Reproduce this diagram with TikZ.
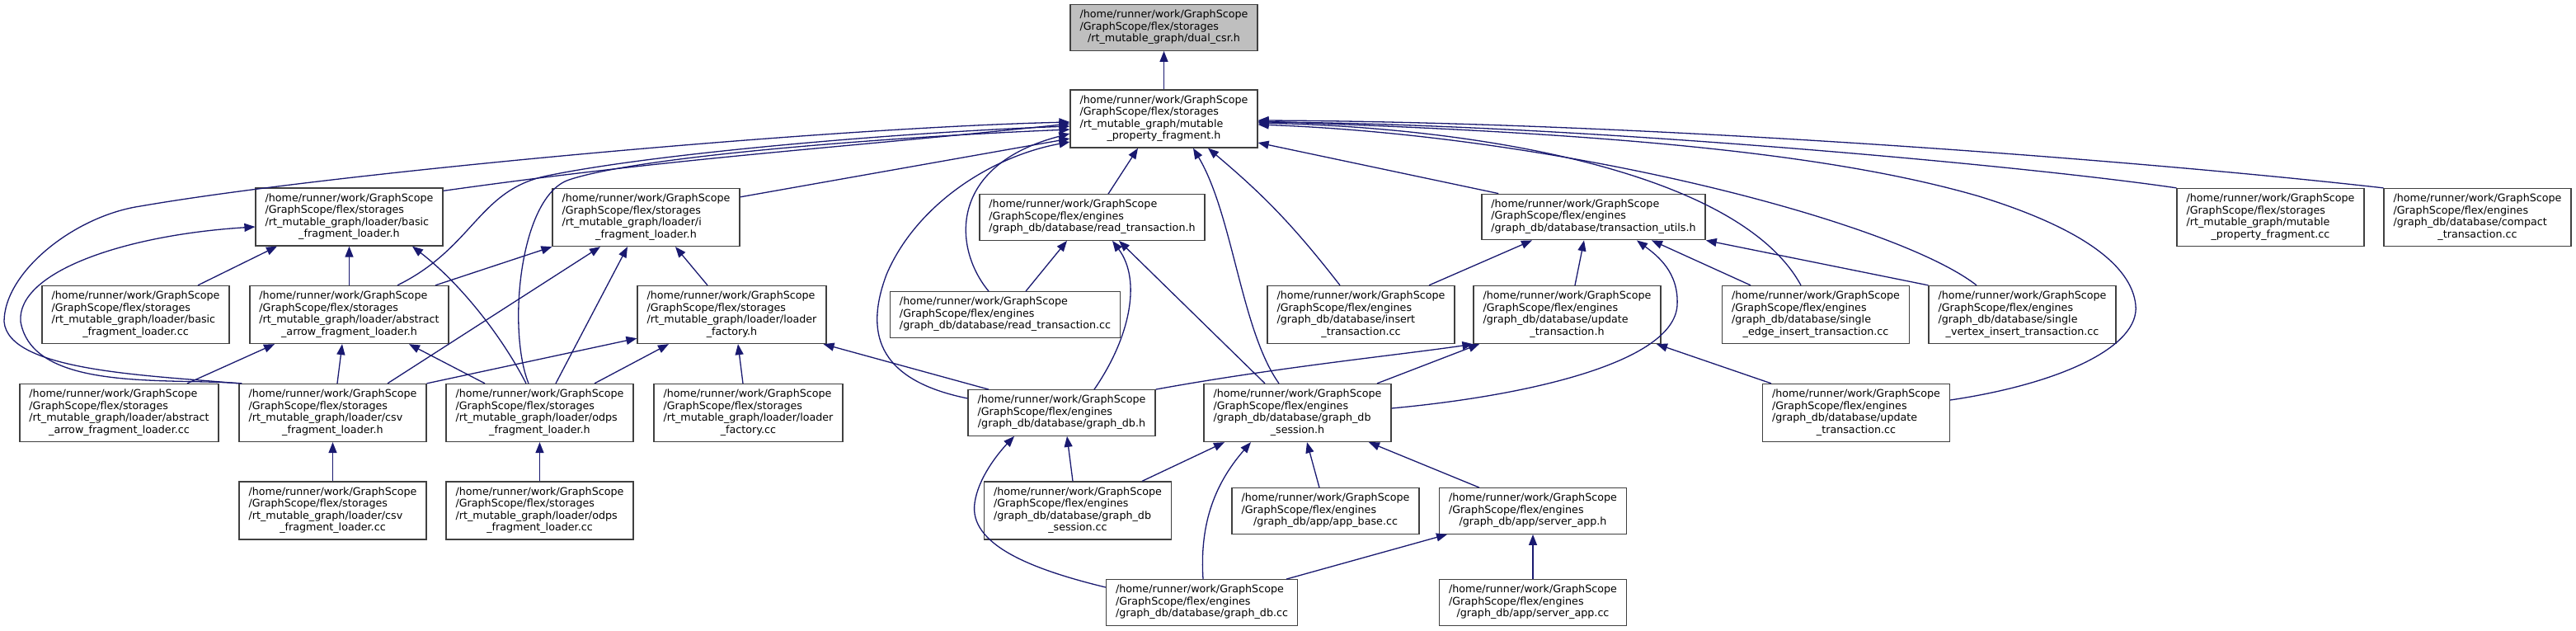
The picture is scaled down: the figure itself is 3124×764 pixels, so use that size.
\documentclass[tikz,border=0pt]{standalone}
\usepackage{fontspec}
\setmainfont{DejaVu Sans}
\usepackage{xcolor}
\usepackage{tikz}
\usetikzlibrary{arrows.meta}
\definecolor{edgeblue}{RGB}{25, 25, 112}
\definecolor{focusgray}{RGB}{191, 191, 191}
\newcommand{\stor}{/home/runner/work/GraphScope\\/GraphScope/flex/storages}
\newcommand{\engi}{/home/runner/work/GraphScope\\/GraphScope/flex/engines}
\newcommand{\fname}[2]{\begin{tabular}{@{}l@{}}#1\\\multicolumn{1}{@{}c@{}}{#2}\end{tabular}}

\begin{document}
\begin{tikzpicture}[x=1pt, y=-1pt,
  incfile/.style={draw=black!75, line width=1.3pt, fill=white, inner xsep=11.5pt, inner ysep=6pt, font=\fontsize{12.7}{14.5}\selectfont},
  incl/.style={draw=edgeblue, line width=1.3pt, -{Triangle[length=13pt,width=10pt]}}]
\fill[white] (0,0) rectangle (3124,764);
\useasboundingbox (0,0) rectangle (3124,764);
\node[incfile, fill=focusgray] (dualcsr) at (1411.5,33.5) {\fname{\stor}{/rt\_mutable\_graph/dual\_csr.h}};
\node[incfile] (mpfh) at (1411.5,144) {\fname{\stor\\/rt\_mutable\_graph/mutable}{\_property\_fragment.h}};
\node[incfile] (basich) at (423.5,263) {\fname{\stor\\/rt\_mutable\_graph/loader/basic}{\_fragment\_loader.h}};
\node[incfile] (ifragh) at (783.5,263.5) {\fname{\stor\\/rt\_mutable\_graph/loader/i}{\_fragment\_loader.h}};
\node[incfile] (readh) at (1324.5,263.5) {\fname{\engi}{/graph\_db/database/read\_transaction.h}};
\node[incfile] (utilsh) at (1932.5,263) {\fname{\engi}{/graph\_db/database/transaction\_utils.h}};
\node[incfile] (mpfcc) at (2753.5,263.5) {\fname{\stor\\/rt\_mutable\_graph/mutable}{\_property\_fragment.cc}};
\node[incfile] (compactcc) at (3004.5,263.5) {\fname{\engi\\/graph\_db/database/compact}{\_transaction.cc}};
\node[incfile] (basiccc) at (164.5,381.5) {\fname{\stor\\/rt\_mutable\_graph/loader/basic}{\_fragment\_loader.cc}};
\node[incfile] (abstracth) at (423.5,381.5) {\fname{\stor\\/rt\_mutable\_graph/loader/abstract}{\_arrow\_fragment\_loader.h}};
\node[incfile] (factoryh) at (887.5,381.5) {\fname{\stor\\/rt\_mutable\_graph/loader/loader}{\_factory.h}};
\node[incfile] (readcc) at (1219,381.5) {\fname{\engi}{/graph\_db/database/read\_transaction.cc}};
\node[incfile] (insertcc) at (1650.5,381.5) {\fname{\engi\\/graph\_db/database/insert}{\_transaction.cc}};
\node[incfile] (updateh) at (1900.5,381.5) {\fname{\engi\\/graph\_db/database/update}{\_transaction.h}};
\node[incfile] (edgecc) at (2202,381.5) {\fname{\engi\\/graph\_db/database/single}{\_edge\_insert\_transaction.cc}};
\node[incfile] (vertexcc) at (2452.5,381.5) {\fname{\engi\\/graph\_db/database/single}{\_vertex\_insert\_transaction.cc}};
\node[incfile] (abstractcc) at (144.5,500.5) {\fname{\stor\\/rt\_mutable\_graph/loader/abstract}{\_arrow\_fragment\_loader.cc}};
\node[incfile] (csvh) at (403.5,500.5) {\fname{\stor\\/rt\_mutable\_graph/loader/csv}{\_fragment\_loader.h}};
\node[incfile] (odpsh) at (654.5,500.5) {\fname{\stor\\/rt\_mutable\_graph/loader/odps}{\_fragment\_loader.h}};
\node[incfile] (factorycc) at (907.5,500.5) {\fname{\stor\\/rt\_mutable\_graph/loader/loader}{\_factory.cc}};
\node[incfile] (graphdbh) at (1287.5,500.5) {\fname{\engi}{/graph\_db/database/graph\_db.h}};
\node[incfile] (sessionh) at (1573.5,500.5) {\fname{\engi\\/graph\_db/database/graph\_db}{\_session.h}};
\node[incfile] (updatecc) at (2251,500.5) {\fname{\engi\\/graph\_db/database/update}{\_transaction.cc}};
\node[incfile] (csvcc) at (403.5,619) {\fname{\stor\\/rt\_mutable\_graph/loader/csv}{\_fragment\_loader.cc}};
\node[incfile] (odpscc) at (654.5,619) {\fname{\stor\\/rt\_mutable\_graph/loader/odps}{\_fragment\_loader.cc}};
\node[incfile] (sessioncc) at (1307,619) {\fname{\engi\\/graph\_db/database/graph\_db}{\_session.cc}};
\node[incfile] (appbasecc) at (1607.5,619.5) {\fname{\engi}{/graph\_db/app/app\_base.cc}};
\node[incfile] (serverh) at (1859,619.5) {\fname{\engi}{/graph\_db/app/server\_app.h}};
\node[incfile] (graphdbcc) at (1457.5,730.5) {\fname{\engi}{/graph\_db/database/graph\_db.cc}};
\node[incfile] (servercc) at (1859,730.5) {\fname{\engi}{/graph\_db/app/server\_app.cc}};
\draw[incl] (mpfh) -- (dualcsr);
\draw[incl] ([yshift=-4pt]basich.north east) to[out=8,in=186] ([yshift=-6pt]mpfh.west);
\draw[incl] (csvh.north west) .. controls (180,455) and (10,450) .. (5,390) .. controls (5,330) and (90,262) .. (170,250) .. controls (400,210) and (1000,155) .. ([yshift=-4pt]mpfh.west);
\draw[incl] ([xshift=4pt]csvh.north west) .. controls (200,458) and (40,475) .. (25,390) .. controls (20,330) and (150,285) .. ([yshift=-12pt]basich.west);
\draw[incl] ([xshift=58.5pt]abstracth.north) .. controls (575,300) and (580,230) .. (664,213) .. controls (800,185) and (1100,160) .. ([yshift=-9pt]mpfh.west);
\draw[incl] ([xshift=-13.5pt]odpsh.north) .. controls (615,400) and (630,238) .. (690,218) .. controls (780,188) and (1100,165) .. ([yshift=-13pt]mpfh.west);
\draw[incl] ([yshift=-11pt]ifragh.north east) -- ([yshift=-24pt]mpfh.west);
\draw[incl] ([xshift=-20pt]readcc.north) .. controls (1155,300) and (1150,200) .. ([yshift=-18pt]mpfh.west);
\draw[incl] ([yshift=17.5pt]graphdbh.west) .. controls (1060,460) and (1050,400) .. (1075,333) .. controls (1110,250) and (1200,190) .. ([yshift=-28pt]mpfh.west);
\draw[incl] ([xshift=19.5pt]readh.north) -- ([xshift=-31.5pt]mpfh.south);
\draw[incl] ([xshift=-22.5pt]sessionh.north) .. controls (1505,400) and (1495,260) .. ([xshift=35.5pt]mpfh.south);
\draw[incl] ([xshift=-25.5pt]insertcc.north) to[bend right=6] ([xshift=53.5pt]mpfh.south);
\draw[incl] ([xshift=21pt]utilsh.north west) -- ([yshift=-29pt]mpfh.east);
\draw[incl] (mpfcc.north west) .. controls (2450,200) and (1900,150) .. ([yshift=-4pt]mpfh.east);
\draw[incl] (compactcc.north west) .. controls (2600,195) and (2000,148) .. ([yshift=-2pt]mpfh.east);
\draw[incl] ([xshift=-18pt]edgecc.north) .. controls (2110,210) and (1800,155) .. ([yshift=-5pt]mpfh.east);
\draw[incl] ([xshift=-55.5pt]vertexcc.north) .. controls (2300,270) and (1900,165) .. ([yshift=-7pt]mpfh.east);
\draw[incl] ([yshift=15.5pt]updatecc.east) .. controls (2500,465) and (2595,420) .. (2590,370) .. controls (2585,320) and (2520,275) .. (2400,238) .. controls (2200,180) and (1900,160) .. ([yshift=-3pt]mpfh.east);
\draw[incl] ([xshift=25pt]readcc.north) -- ([xshift=-30.5pt]readh.south);
\draw[incl] ([xshift=39.5pt]graphdbh.north) .. controls (1370,410) and (1385,340) .. ([xshift=24.5pt]readh.south);
\draw[incl] ([xshift=-39.5pt]sessionh.north) -- ([xshift=32.5pt]readh.south);
\draw[incl] ([xshift=75.5pt]basiccc.north) -- ([xshift=-87.5pt]basich.south);
\draw[incl] (abstracth) -- (basich);
\draw[incl] ([xshift=-16.5pt]odpsh.north) .. controls (610,410) and (560,345) .. ([xshift=76.5pt]basich.south);
\draw[incl] ([xshift=82.5pt]abstractcc.north) -- ([xshift=-90.5pt]abstracth.south);
\draw[incl] ([xshift=5.5pt]csvh.north) -- ([xshift=-8.5pt]abstracth.south);
\draw[incl] ([xshift=-66.5pt]odpsh.north) -- ([xshift=72.5pt]abstracth.south);
\draw[incl] ([xshift=104.5pt]abstracth.north) -- (ifragh.south west);
\draw[incl] ([xshift=66.5pt]csvh.north) -- ([xshift=-55.5pt]ifragh.south);
\draw[incl] ([xshift=19.5pt]odpsh.north) -- ([xshift=-22.5pt]ifragh.south);
\draw[incl] ([xshift=-29.5pt]factoryh.north) -- ([xshift=35.5pt]ifragh.south);
\draw[incl] (csvh.north east) -- ([yshift=7pt]factoryh.south west);
\draw[incl] ([xshift=66.5pt]odpsh.north) -- ([xshift=-76.5pt]factoryh.south);
\draw[incl] ([xshift=-6.5pt]factorycc.north) -- ([xshift=7.5pt]factoryh.south);
\draw[incl] ([xshift=-88.5pt]graphdbh.north) -- ([xshift=-4pt]factoryh.south east);
\draw[incl] (csvcc) -- (csvh);
\draw[incl] (odpscc) -- (odpsh);
\draw[incl] ([xshift=82.5pt]insertcc.north) -- ([xshift=-74.5pt]utilsh.south);
\draw[incl] ([xshift=9.5pt]updateh.north) -- ([xshift=-11.5pt]utilsh.south);
\draw[incl] ([yshift=5.5pt]sessionh.east) .. controls (1850,480) and (2030,440) .. (2034,370) .. controls (2036,330) and (2010,310) .. ([xshift=52.5pt]utilsh.south);
\draw[incl] ([xshift=-79pt]edgecc.north) -- ([xshift=70.5pt]utilsh.south);
\draw[incl] (vertexcc.north west) -- (utilsh.south east);
\draw[incl] (graphdbh.north east) .. controls (1550,445) and (1700,430) .. (updateh.south west);
\draw[incl] ([xshift=96.5pt]sessionh.north) -- ([xshift=-106.5pt]updateh.south);
\draw[incl] ([xshift=-103pt]updatecc.north) -- ([xshift=108.5pt]updateh.south);
\draw[incl] ([xshift=-6pt]sessioncc.north) -- ([xshift=6.5pt]graphdbh.south);
\draw[incl] ([yshift=18.5pt]graphdbcc.west) .. controls (1250,690) and (1175,660) .. (1182,610) .. controls (1186,580) and (1210,550) .. ([xshift=-57.5pt]graphdbh.south);
\draw[incl] ([xshift=78pt]sessioncc.north) -- ([xshift=-88.5pt]sessionh.south);
\draw[incl] ([xshift=1.5pt]graphdbcc.north) .. controls (1455,640) and (1470,590) .. ([xshift=-56.5pt]sessionh.south);
\draw[incl] ([xshift=-7.5pt]appbasecc.north) -- ([xshift=11.5pt]sessionh.south);
\draw[incl] ([xshift=-65pt]serverh.north) -- ([xshift=86.5pt]sessionh.south);
\draw[incl] ([xshift=102.5pt]graphdbcc.north) -- ([xshift=-104pt]serverh.south);
\draw[incl] (servercc) -- (serverh);
\end{tikzpicture}
\end{document}
